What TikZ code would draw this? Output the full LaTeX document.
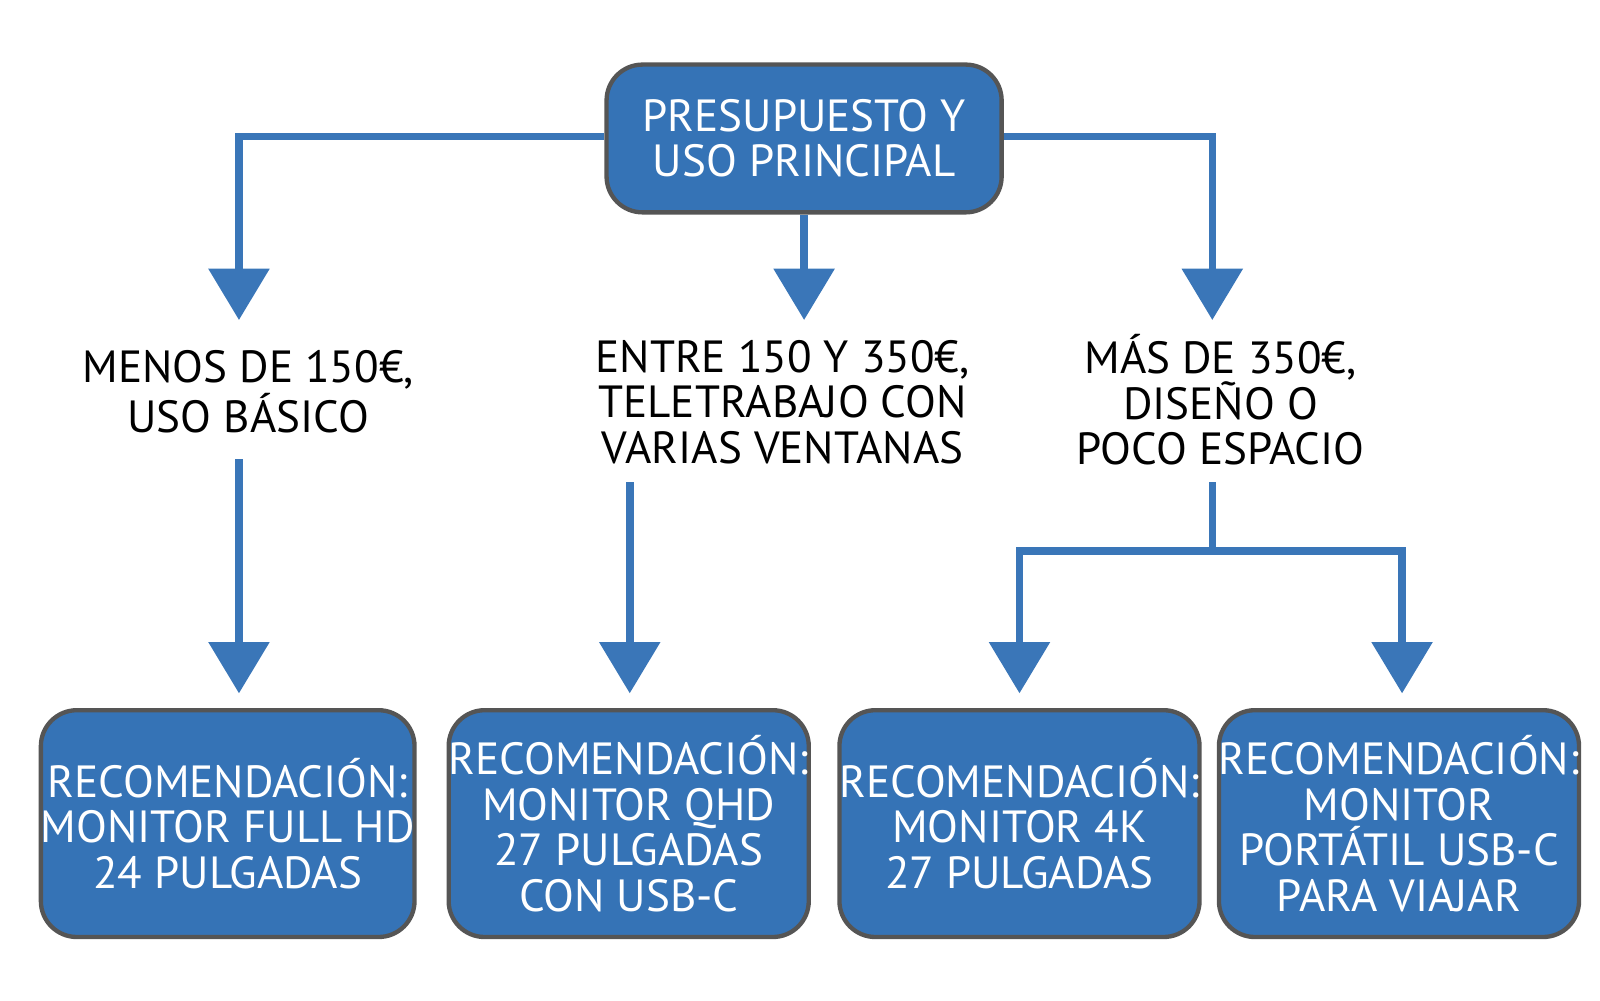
\documentclass[tikz,border=0pt]{standalone}
\usepackage{fontspec}
\setmainfont{PT Sans}
\usetikzlibrary{arrows.meta}
\definecolor{boxblue}{HTML}{3573B6}
\definecolor{arrblue}{HTML}{3A76B8}
\definecolor{edge}{HTML}{555555}
\begin{document}
\begin{tikzpicture}[x=0.01cm,y=-0.01cm,
  box/.style={draw=edge,line width=1.2pt,fill=boxblue,rounded corners=0.35cm,text=white,align=center,font=\fontsize{12.5}{12.6}\selectfont,inner sep=0pt},
  lab/.style={align=center,font=\fontsize{12.5}{12.6}\selectfont,text=black,inner sep=0pt},
  ln/.style={draw=arrblue,line width=2.1pt},
  arr/.style={ln,-{Triangle[width=0.58cm,length=0.5cm]}}]
\useasboundingbox (0,0) rectangle (1560,975);
\node[box,minimum width=3.85cm,minimum height=1.44cm] (a) at (784,135) {PRESUPUESTO Y\\USO PRINCIPAL};
\node[lab] (l1) at (242,382) {MENOS DE 150€,\\USO BÁSICO};
\node[lab] (l2) at (763,392) {ENTRE 150 Y 350€,\\TELETRABAJO CON\\VARIAS VENTANAS};
\node[lab] (l3) at (1190,390) {MÁS DE 350€,\\DISEÑO O\\POCO ESPACIO};
\foreach \n/\x/\t in {b1/222/{RECOMENDACIÓN:\\MONITOR FULL HD\\24 PULGADAS},
  b2/613/{RECOMENDACIÓN:\\MONITOR QHD\\27 PULGADAS\\CON USB-C},
  b3/994/{RECOMENDACIÓN:\\MONITOR 4K\\27 PULGADAS},
  b4/1364/{RECOMENDACIÓN:\\MONITOR\\PORTÁTIL USB-C\\PARA VIAJAR}}
  \node[box,minimum width=3.4cm,minimum height=2.21cm] (\n) at (\x,803) {\t};
\coordinate (t1) at (233,312); \coordinate (t2) at (784,312); \coordinate (t3) at (1182,312);
\coordinate (s1) at (233,448); \coordinate (s2) at (614,470); \coordinate (s3) at (1182,470);
\coordinate (j) at (1182,537);
\coordinate (u1) at (233,676); \coordinate (u2) at (614,676); \coordinate (u3) at (994,676); \coordinate (u4) at (1367,676);
\draw[arr] (a.west |- 0,133) -| (t1);
\draw[arr] (a.south) -- (t2);
\draw[arr] (a.east |- 0,133) -| (t3);
\draw[arr] (s1) -- (u1);
\draw[arr] (s2) -- (u2);
\draw[ln] (s3) -- (j);
\draw[arr] (j) -| (u3);
\draw[arr] (j) -| (u4);
\end{tikzpicture}
\end{document}
